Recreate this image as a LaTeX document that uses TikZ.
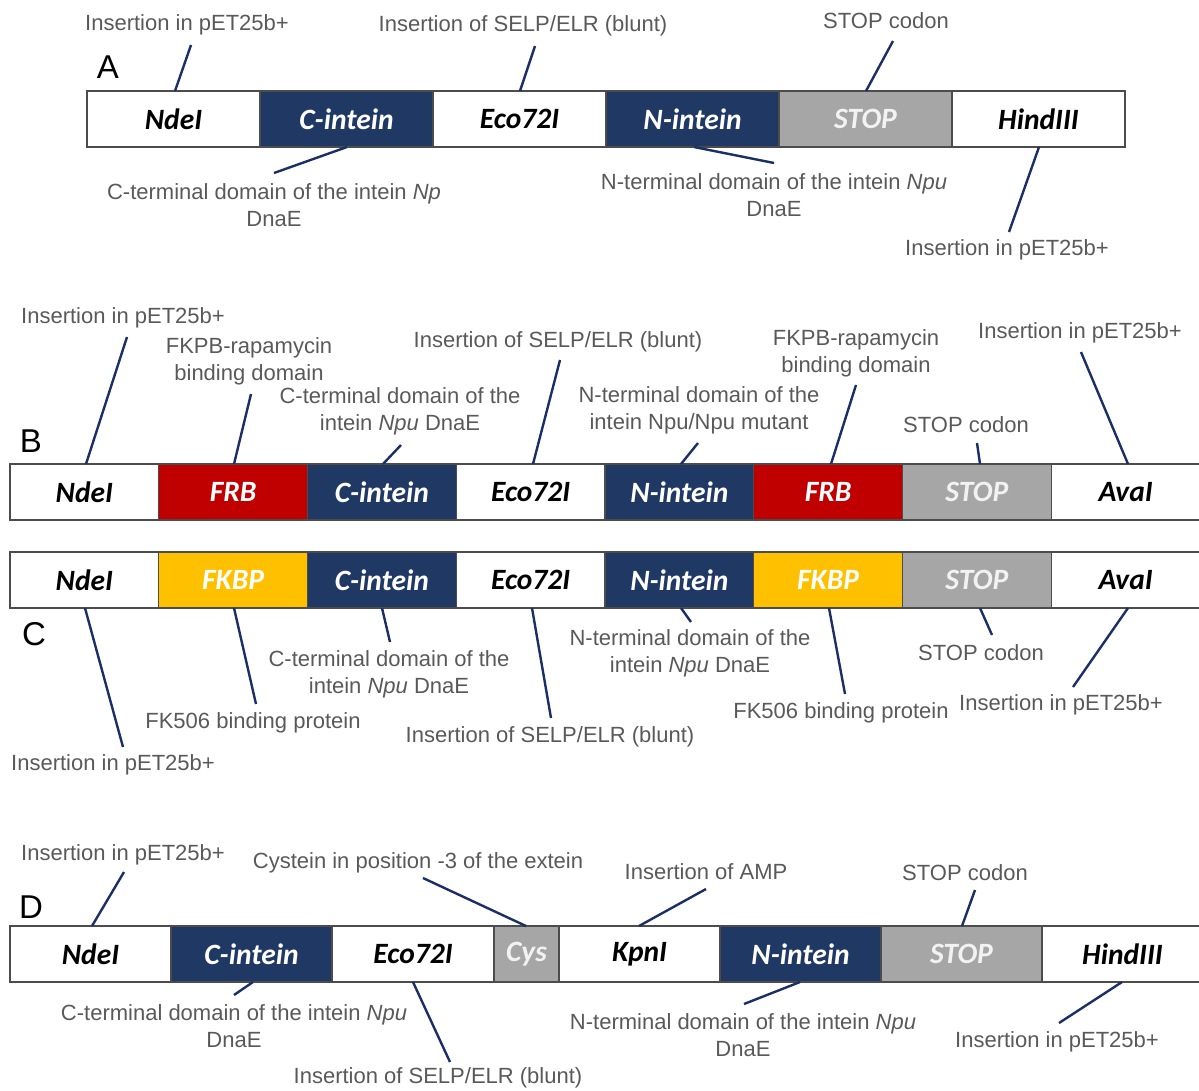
\documentclass[tikz,border=0pt]{standalone}
\usepackage{fontspec}
\setmainfont{Liberation Sans}
\newfontfamily\boxfont{Carlito}
\definecolor{navybox}{HTML}{203864}
\definecolor{redbox}{HTML}{C00000}
\definecolor{goldbox}{HTML}{FFC000}
\definecolor{graybox}{HTML}{A6A6A6}
\definecolor{labelgray}{HTML}{595959}
\definecolor{linkblue}{HTML}{1B2F66}
\definecolor{paletext}{HTML}{F2F2F2}
\begin{document}
\begin{tikzpicture}[x=1pt,y=-1pt,
  seg/.style={draw=black!70, line width=1.2pt, minimum height=56pt, inner sep=0pt, outer sep=0pt, anchor=west,
    font={\boxfont\bfseries\itshape\fontsize{29.5}{30}\selectfont}},
  wseg/.style={seg, fill=white, text=black},
  nseg/.style={seg, fill=navybox, text=white},
  sseg/.style={seg, fill=graybox, text=paletext},
  rseg/.style={seg, fill=redbox, text=white},
  yseg/.style={seg, fill=goldbox, text=white},
  lbl/.style={text=labelgray, font={\fontsize{22}{27}\selectfont}, align=center, inner sep=0pt},
  rowlbl/.style={text=black, font={\fontsize{33}{36}\selectfont}, inner sep=0pt},
  conn/.style={draw=linkblue, line width=2.4pt}]
\useasboundingbox (0,0) rectangle (1199,1090);

% ---------------- Row A ----------------
\node[rowlbl] (rA) at (108,67) {A};
\node[wseg, minimum width=173pt] (a1) at (87,119) {NdeI};
\node[nseg, minimum width=173pt] (a2) at (a1.east) {C-intein};
\node[wseg, minimum width=173pt] (a3) at (a2.east) {Eco72I};
\node[nseg, minimum width=173pt] (a4) at (a3.east) {N-intein};
\node[sseg, minimum width=173pt] (a5) at (a4.east) {STOP};
\node[wseg, minimum width=173pt] (a6) at (a5.east) {HindIII};

\node[lbl] (la1) at (187,25) {Insertion in pET25b+};
\node[lbl] (la2) at (523,26) {Insertion of SELP/ELR (blunt)};
\node[lbl] (la3) at (886,21) {STOP codon};
\node[lbl] (la4) at (274,205.5) {C-terminal domain of the intein \textit{Np}\\DnaE};
\node[lbl] (la5) at (774,195.5) {N-terminal domain of the intein \textit{Npu}\\DnaE};
\node[lbl] (la6) at (1007,250) {Insertion in pET25b+};

\coordinate (pa1) at (191,45);  \coordinate (qa1) at (175,91);
\coordinate (pa2) at (535,46);  \coordinate (qa2) at (520,91);
\coordinate (pa3) at (893,41);  \coordinate (qa3) at (866,91);
\coordinate (pa4) at (274,173); \coordinate (qa4) at (347,147);
\coordinate (pa5) at (774,163); \coordinate (qa5) at (694,147);
\coordinate (pa6) at (1009,232);\coordinate (qa6) at (1039,147);
\foreach \i in {1,...,6} \draw[conn] (pa\i) -- (qa\i);

% ---------------- Row B ----------------
\node[rowlbl] (rB) at (31,441) {B};
\node[wseg, minimum width=148.75pt] (b1) at (10,492) {NdeI};
\node[rseg, minimum width=148.75pt] (b2) at (b1.east) {FRB};
\node[nseg, minimum width=148.75pt] (b3) at (b2.east) {C-intein};
\node[wseg, minimum width=148.75pt] (b4) at (b3.east) {Eco72I};
\node[nseg, minimum width=148.75pt] (b5) at (b4.east) {N-intein};
\node[rseg, minimum width=148.75pt] (b6) at (b5.east) {FRB};
\node[sseg, minimum width=148.75pt] (b7) at (b6.east) {STOP};
\node[wseg, minimum width=148.75pt] (b8) at (b7.east) {AvaI};

\node[lbl] (lb1) at (123,318) {Insertion in pET25b+};
\node[lbl] (lb2) at (249,361.5) {FKPB-rapamycin\\binding domain};
\node[lbl] (lb3) at (400,411.5) {C-terminal domain of the\\intein \textit{Npu} DnaE};
\node[lbl] (lb4) at (558,342) {Insertion of SELP/ELR (blunt)};
\node[lbl] (lb5) at (699,410) {N-terminal domain of the\\intein Npu/Npu mutant};
\node[lbl] (lb6) at (856,353.5) {FKPB-rapamycin\\binding domain};
\node[lbl] (lb7) at (966,425) {STOP codon};
\node[lbl] (lb8) at (1080,333) {Insertion in pET25b+};

\coordinate (pb1) at (127,337);  \coordinate (qb1) at (86,464);
\coordinate (pb2) at (251,394);  \coordinate (qb2) at (234,464);
\coordinate (pb3) at (401,445);  \coordinate (qb3) at (383,464);
\coordinate (pb4) at (560,360);  \coordinate (qb4) at (533,464);
\coordinate (pb5) at (698,443);  \coordinate (qb5) at (681,464);
\coordinate (pb6) at (856,385);  \coordinate (qb6) at (831,464);
\coordinate (pb7) at (977,443);  \coordinate (qb7) at (980,464);
\coordinate (pb8) at (1081,352); \coordinate (qb8) at (1128,464);
\foreach \i in {1,...,8} \draw[conn] (pb\i) -- (qb\i);

% ---------------- Row C ----------------
\node[rowlbl] (rC) at (34,634) {C};
\node[wseg, minimum width=148.75pt] (c1) at (10,580) {NdeI};
\node[yseg, minimum width=148.75pt] (c2) at (c1.east) {FKBP};
\node[nseg, minimum width=148.75pt] (c3) at (c2.east) {C-intein};
\node[wseg, minimum width=148.75pt] (c4) at (c3.east) {Eco72I};
\node[nseg, minimum width=148.75pt] (c5) at (c4.east) {N-intein};
\node[yseg, minimum width=148.75pt] (c6) at (c5.east) {FKBP};
\node[sseg, minimum width=148.75pt] (c7) at (c6.east) {STOP};
\node[wseg, minimum width=148.75pt] (c8) at (c7.east) {AvaI};

\node[lbl] (lc1) at (113,765) {Insertion in pET25b+};
\node[lbl] (lc2) at (253,723) {FK506 binding protein};
\node[lbl] (lc3) at (389,674) {C-terminal domain of the\\intein \textit{Npu} DnaE};
\node[lbl] (lc4) at (550,737) {Insertion of SELP/ELR (blunt)};
\node[lbl] (lc5) at (690,653) {N-terminal domain of the\\intein \textit{Npu} DnaE};
\node[lbl] (lc6) at (841,713) {FK506 binding protein};
\node[lbl] (lc7) at (981,653) {STOP codon};
\node[lbl] (lc8) at (1061,705) {Insertion in pET25b+};

\coordinate (pc1) at (123,747);  \coordinate (qc1) at (85,608);
\coordinate (pc2) at (256,704);  \coordinate (qc2) at (234,608);
\coordinate (pc3) at (390,642);  \coordinate (qc3) at (382,608);
\coordinate (pc4) at (551,718);  \coordinate (qc4) at (532,608);
\coordinate (pc5) at (691,622);  \coordinate (qc5) at (681,608);
\coordinate (pc6) at (845,694);  \coordinate (qc6) at (829,608);
\coordinate (pc7) at (992,635);  \coordinate (qc7) at (980,608);
\coordinate (pc8) at (1073,687); \coordinate (qc8) at (1128,608);
\foreach \i in {1,...,8} \draw[conn] (pc\i) -- (qc\i);

% ---------------- Row D ----------------
\node[rowlbl] (rD) at (31,907) {D};
\node[wseg, minimum width=161pt] (d1) at (10,954) {NdeI};
\node[nseg, minimum width=161pt] (d2) at (d1.east) {C-intein};
\node[wseg, minimum width=162pt] (d3) at (d2.east) {Eco72I};
\node[sseg, minimum width=65pt] (d4) at (d3.east) {Cys};
\node[wseg, minimum width=161pt] (d5) at (d4.east) {KpnI};
\node[nseg, minimum width=161pt] (d6) at (d5.east) {N-intein};
\node[sseg, minimum width=161pt] (d7) at (d6.east) {STOP};
\node[wseg, minimum width=161pt] (d8) at (d7.east) {HindIII};

\node[lbl] (ld1) at (123,855) {Insertion in pET25b+};
\node[lbl] (ld2) at (418,863) {Cystein in position -3 of the extein};
\node[lbl] (ld3) at (706,872) {Insertion of AMP};
\node[lbl] (ld4) at (965,873) {STOP codon};
\node[lbl] (ld5) at (234,1026.5) {C-terminal domain of the intein \textit{Npu}\\DnaE};
\node[lbl] (ld6) at (438,1078) {Insertion of SELP/ELR (blunt)};
\node[lbl] (ld7) at (743,1035.5) {N-terminal domain of the intein \textit{Npu}\\DnaE};
\node[lbl] (ld8) at (1057,1042) {Insertion in pET25b+};

\coordinate (pd1) at (124,872);  \coordinate (qd1) at (92,926);
\coordinate (pd2) at (423,878);  \coordinate (qd2) at (526,926);
\coordinate (pd3) at (706,889);  \coordinate (qd3) at (639,926);
\coordinate (pd4) at (975,890);  \coordinate (qd4) at (962,926);
\coordinate (pd5) at (234,995);  \coordinate (qd5) at (253,982);
\coordinate (pd6) at (450,1062); \coordinate (qd6) at (413,982);
\coordinate (pd7) at (744,1004); \coordinate (qd7) at (800,982);
\coordinate (pd8) at (1059,1023);\coordinate (qd8) at (1122,982);
\foreach \i in {1,...,8} \draw[conn] (pd\i) -- (qd\i);
\end{tikzpicture}
\end{document}
